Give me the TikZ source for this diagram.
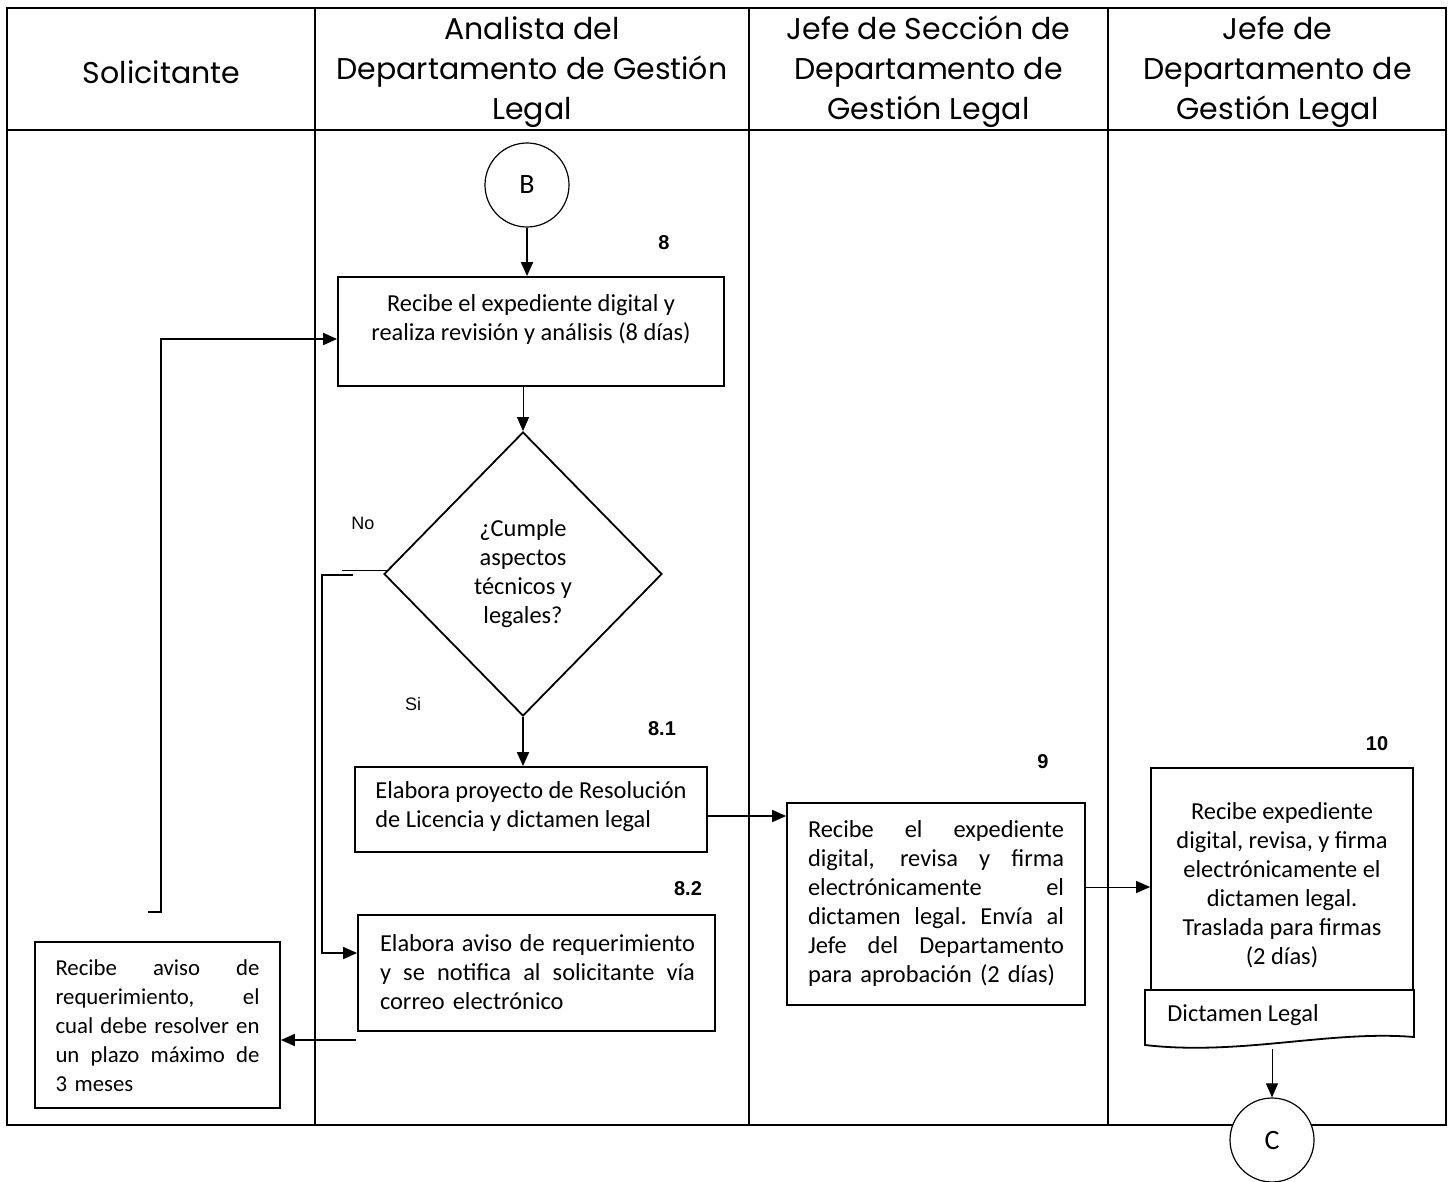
\documentclass[tikz,border=0pt]{standalone}
\usepackage{fontspec}
\setmainfont{Carlito}
\newfontfamily\headfont{Poppins}
\newfontfamily\arialfont{Liberation Sans}
\usetikzlibrary{arrows.meta,shapes.geometric}
\newcommand{\jl}[2]{\leavevmode\hbox to #1{\spaceskip=0.18em plus 1fil\relax\xspaceskip=0.18em plus 1fil\relax #2}}
\begin{document}
\begin{tikzpicture}[x=0.5pt,y=-0.5pt,
  lane/.style={line width=1pt},
  box/.style={draw, line width=0.9pt, rectangle, inner sep=0pt},
  txt/.style={font=\fontsize{12.2}{14.5}\selectfont, inner sep=0pt},
  stxt/.style={font=\fontsize{11.4}{14.5}\selectfont, inner sep=0pt},
  head/.style={font=\headfont\fontsize{15}{20}\selectfont, align=center, inner sep=0pt},
  num/.style={font=\arialfont\bfseries\fontsize{10}{12}\selectfont, inner sep=0pt},
  lbl/.style={font=\arialfont\fontsize{9}{11}\selectfont, inner sep=0pt},
  conn/.style={draw, circle, line width=0.6pt, minimum size=42pt, inner sep=0pt, fill=white, font=\fontsize{14}{16}\selectfont},
  arr/.style={line width=0.9pt, -{Triangle[length=7pt,width=6pt]}},
  tarr/.style={line width=0.5pt, -{Triangle[length=7pt,width=6pt]}},
  ln/.style={line width=0.9pt}
]
\useasboundingbox (0,0) rectangle (1450,1182);
% lanes
\draw[lane] (7,8) rectangle (1446,1125);
\draw[lane] (7,130) -- (1446,130);
\draw[lane] (315,8) -- (315,1125);
\draw[lane] (749,8) -- (749,1125);
\draw[lane] (1108,8) -- (1108,1125);
\node[head] (h1) at (161.5,72) {Solicitante};
\node[head] (h2) at (532,72) {Analista del\\Departamento de Gestión\\Legal};
\node[head] (h3) at (928.5,72) {Jefe de Sección de\\Departamento de\\Gestión Legal};
\node[head] (h4) at (1277.5,72) {Jefe de\\Departamento de\\Gestión Legal};

% B
\node[conn] (B) at (527,185) {B};
\node[num] (n8) at (664,243) {8};
\node[box, minimum width=193pt, minimum height=54.5pt] (b8) at (531,331.5) {};
\node[txt, align=center] (t8) at (531,319) {Recibe el expediente digital y\\realiza revisión y análisis (8 días)};

% diamond
\node[draw, diamond, line width=0.9pt, minimum width=139pt, minimum height=142pt, inner sep=0pt, txt, align=center] (dia) at (523,574) {¿Cumple\\aspectos\\técnicos y\\legales?};
\node[lbl] (no) at (363,523) {No};
\node[lbl] (si) at (413,704) {Si};

% 8.1
\node[num] (n81) at (662,729) {8.1};
\node[box, minimum width=176pt, minimum height=42.5pt] (b81) at (531,809.5) {};
\node[txt, align=left, anchor=west] (t81) at (375,806.5) {Elabora proyecto de Resolución\\de Licencia y dictamen legal};

% 8.2
\node[num] (n82) at (688,889) {8.2};
\node[box, minimum width=178.5pt, minimum height=58pt] (b82) at (536.5,973) {};
\node[txt, align=left, text width=157.5pt] (t82) at (537.5,972) {\jl{157.5pt}{Elabora aviso de requerimiento}\\\jl{157.5pt}{y se notifica al solicitante vía}\\correo electrónico};

% Solicitante
\node[box, minimum width=122.5pt, minimum height=83pt] (sol) at (157.5,1025) {};
\node[stxt, align=left, text width=102pt] (tsol) at (157.5,1026) {\jl{102pt}{Recibe aviso de}\\\jl{102pt}{requerimiento, el}\\\jl{102pt}{cual debe resolver en}\\\jl{102pt}{un plazo máximo de}\\3 meses};

% 9
\node[num] (n9) at (1043,762) {9};
\node[box, minimum width=149pt, minimum height=101pt] (b9) at (936,904) {};
\node[txt, align=left, text width=128pt] (t9) at (936,903) {\jl{128pt}{Recibe el expediente}\\\jl{128pt}{digital, revisa y firma}\\\jl{128pt}{electrónicamente el}\\\jl{128pt}{dictamen legal. Envía al}\\\jl{128pt}{Jefe del Departamento}\\para aprobación (2 días)};

% 10
\node[num] (n10) at (1377,744) {10};
\node[box, minimum width=131pt, minimum height=111pt] (b10) at (1282,879) {};
\node[txt, align=center] (t10) at (1282,885.5) {Recibe expediente\\digital, revisa, y firma\\electrónicamente el\\dictamen legal.\\Traslada para firmas\\(2 días)};
\draw[line width=0.9pt] (1145,990) -- (1414,990) -- (1414,1037)
  .. controls (1330,1030) and (1240,1056) .. (1145,1045) -- cycle;
\coordinate (docb) at (1272,1049);
\node[txt, anchor=west] (tdoc) at (1167,1015) {Dictamen Legal};
\node[conn] (C) at (1272,1140) {C};

% connectors
\draw[arr] (B.south) -- (B.south |- b8.north);
\draw[tarr] (dia.north |- b8.south) -- (dia.north);
\coordinate (l0) at (148,912);
\coordinate (l1) at (161,912);
\coordinate (l2) at (161,339);
\draw[arr] (l0) -- (l1) -- (l2) -- (l2 -| b8.west);
\coordinate (no0) at (389,570);
\coordinate (no1) at (342,570);
\draw[line width=0.5pt] (no0) -- (no1);
\coordinate (no2) at (353,575);
\coordinate (no3) at (322,575);
\coordinate (no4) at (322,953);
\draw[arr] (no2) -- (no3) -- (no4) -- (no4 -| b82.west);
\draw[arr] (dia.south) -- (dia.south |- b81.north);
\coordinate (a1) at (707,816);
\draw[arr] (a1) -- (a1 -| b9.west);
\coordinate (a2) at (1085,887);
\draw[tarr] (a2) -- (a2 -| b10.west);
\coordinate (a3) at (356,1040);
\draw[arr] (a3) -- (a3 -| sol.east);
\draw[tarr] (docb) -- (C.north);
\end{tikzpicture}
\end{document}
